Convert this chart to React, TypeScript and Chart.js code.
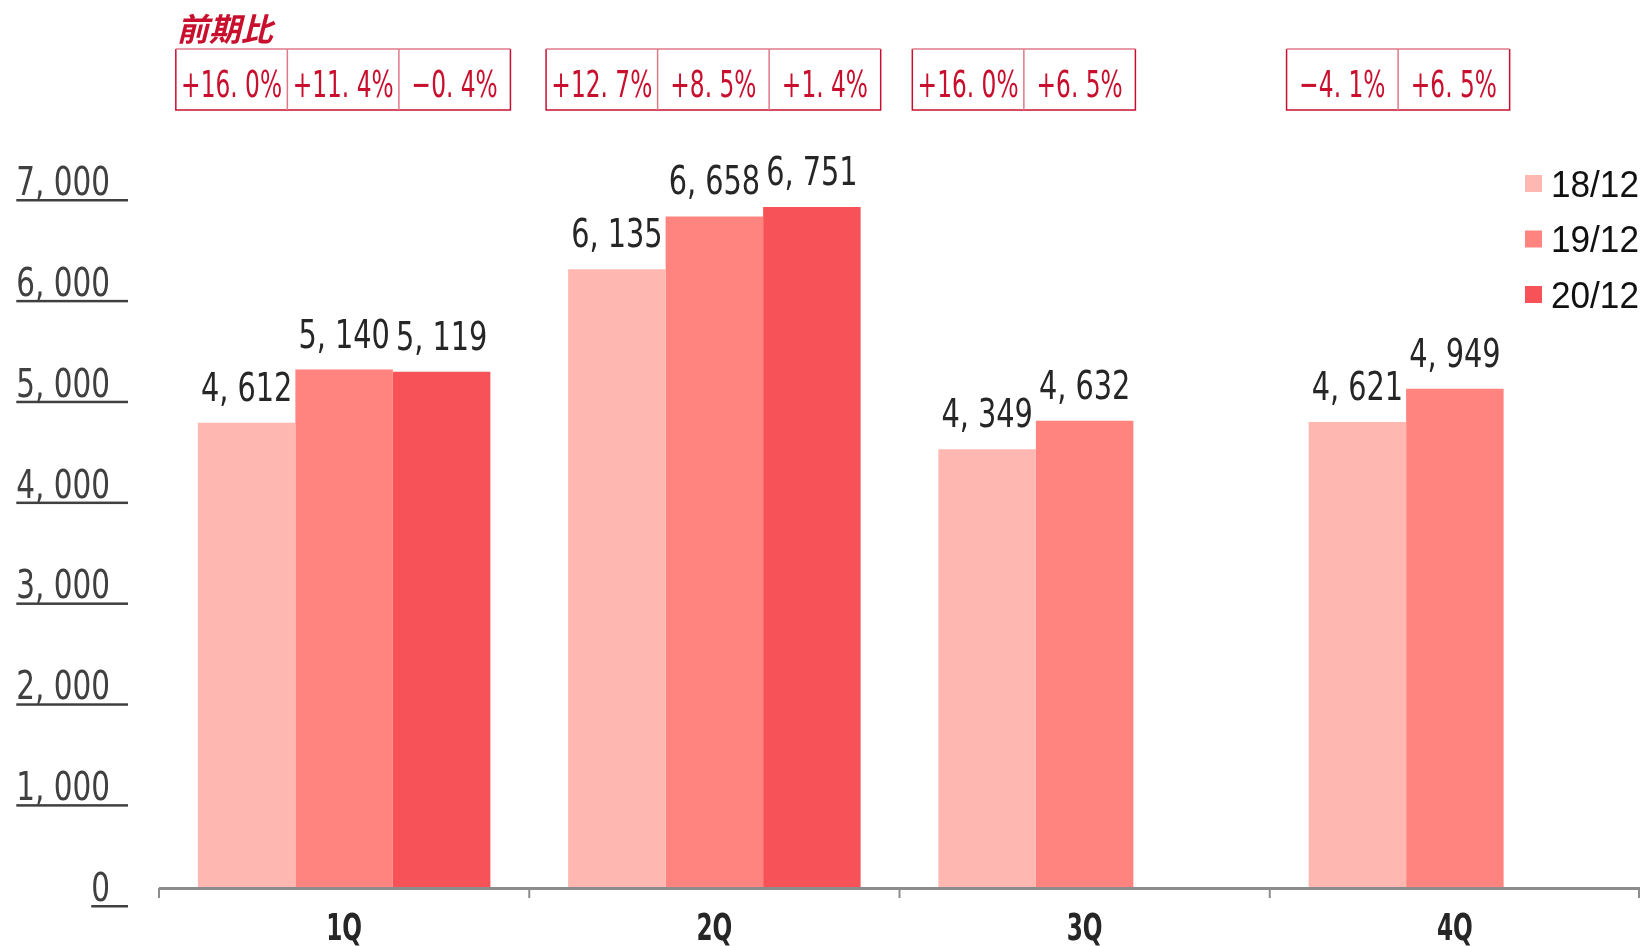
import React, { useEffect, useRef } from "react";
import { Chart, registerables } from "chart.js";

Chart.register(...registerables);

const categories = ["1Q", "2Q", "3Q", "4Q"];
const seriesLabels = ["18/12", "19/12", "20/12"];
const values1812 = [4612, 6135, 4349, 4621];
const values1912 = [5140, 6658, 4632, 4949];
const values2012: (number | null)[] = [5119, 6751, null, null];
const seriesColors = ["#FFB7B2", "#FF8480", "#F75257"];
const growth1Q = [16.0, 11.4, -0.4];
const growth2Q = [12.7, 8.5, 1.4];
const growth3Q = [16.0, 6.5];
const growth4Q = [-4.1, 6.5];
const growthByQuarter = [growth1Q, growth2Q, growth3Q, growth4Q];
const growthTitle = "前期比";
const yTicks = [0, 1000, 2000, 3000, 4000, 5000, 6000, 7000];

const NARROW = "'Liberation Sans Narrow', 'DejaVu Sans Condensed', 'Liberation Sans', sans-serif";
const REGULAR = "'Liberation Sans', Arial, sans-serif";
const CJK = "'Noto Sans CJK JP', sans-serif";
const CRIMSON = "#C8102E";

const fmtNum = (v: number) => v.toLocaleString("en-US").replace(/,/g, ", ");
const fmtPct = (v: number) => {
  const s = Math.abs(v).toFixed(1).replace(".", ". ");
  return (v < 0 ? "\u2212" : "+") + s + "%";
};

function drawSquished(ctx: CanvasRenderingContext2D, text: string, x: number, y: number, sx: number, align: "left" | "center" | "right") {
  ctx.save();
  ctx.translate(x, y);
  ctx.scale(sx, 1);
  ctx.textAlign = align;
  ctx.fillText(text, 0, 0);
  ctx.restore();
}

const overlayPlugin = {
  id: "overlay",
  afterDraw(chart: any) {
    const ctx: CanvasRenderingContext2D = chart.ctx;
    const area = chart.chartArea;
    const xs = chart.scales.x;
    const ys = chart.scales.y;
    ctx.save();

    // x axis line and ticks
    ctx.strokeStyle = "#8C8C8C";
    ctx.lineWidth = 3;
    ctx.beginPath();
    ctx.moveTo(area.left, area.bottom + 0.5);
    ctx.lineTo(area.right, area.bottom + 0.5);
    ctx.stroke();
    ctx.lineWidth = 2;
    const cw = (area.right - area.left) / categories.length;
    for (let i = 0; i <= categories.length; i++) {
      const px = Math.min(area.left + i * cw, area.right - 1);
      ctx.beginPath();
      ctx.moveTo(px, area.bottom);
      ctx.lineTo(px, area.bottom + 10);
      ctx.stroke();
    }

    // x labels
    ctx.fillStyle = "#262626";
    ctx.font = `bold 38px ${NARROW}`;
    ctx.textBaseline = "alphabetic";
    categories.forEach((c, i) => {
      drawSquished(ctx, c, xs.getPixelForValue(i), area.bottom + 52, 0.68, "center");
    });

    // y labels with underline
    const ySx = 0.84;
    ctx.font = `39px ${NARROW}`;
    yTicks.forEach((v) => {
      const py = ys.getPixelForValue(v);
      const t = fmtNum(v);
      ctx.fillStyle = "#404040";
      const w = ctx.measureText(t).width * ySx;
      drawSquished(ctx, t, 110, py + 13, ySx, "right");
      ctx.fillRect(110 - w, py + 17, 128 - (110 - w), 2.5);
    });

    // data labels
    ctx.fillStyle = "#262626";
    ctx.font = `39px ${NARROW}`;
    chart.data.datasets.forEach((ds: any, d: number) => {
      const meta = chart.getDatasetMeta(d);
      ds.data.forEach((v: number | null, i: number) => {
        if (v == null) return;
        const el = meta.data[i];
        drawSquished(ctx, fmtNum(v), el.x, el.y - 22, 0.82, "center");
      });
    });

    // growth boxes
    const barW = chart.getDatasetMeta(0).data[0].width;
    const cellW = barW * 1.144;
    const boxTop = 49;
    const boxBottom = 110;
    growthByQuarter.forEach((g, i) => {
      const gc = xs.getPixelForValue(i);
      const left = gc - 1.5 * cellW - (i === 2 ? 5 : 1);
      const right = left + g.length * cellW;
      ctx.strokeStyle = CRIMSON;
      ctx.lineWidth = 1.5;
      ctx.beginPath();
      ctx.moveTo(left, boxTop);
      ctx.lineTo(left, boxBottom);
      ctx.lineTo(right, boxBottom);
      ctx.lineTo(right, boxTop);
      ctx.stroke();
      ctx.strokeStyle = "#DE7A88";
      ctx.beginPath();
      ctx.moveTo(left, boxTop);
      ctx.lineTo(right, boxTop);
      ctx.stroke();
      for (let k = 1; k < g.length; k++) {
        ctx.beginPath();
        ctx.moveTo(left + k * cellW, boxTop);
        ctx.lineTo(left + k * cellW, boxBottom);
        ctx.stroke();
      }
      ctx.fillStyle = CRIMSON;
      ctx.font = `37px ${NARROW}`;
      g.forEach((v, k) => {
        drawSquished(ctx, fmtPct(v), left + (k + 0.5) * cellW, 97, 0.7, "center");
      });
      if (i === 0) {
        ctx.font = `italic bold 32px ${CJK}`;
        ctx.textAlign = "left";
        ctx.fillText(growthTitle, left + 1, 41);
      }
    });

    // legend
    seriesLabels.forEach((s, k) => {
      const cy = 183.5 + k * 55.5;
      ctx.fillStyle = seriesColors[k];
      ctx.fillRect(1525, cy - 8.5, 17, 17);
      ctx.fillStyle = "#111111";
      ctx.font = `37px ${REGULAR}`;
      ctx.textAlign = "left";
      drawSquished(ctx, s, 1551, cy + 13, 0.95, "left");
    });

    ctx.restore();
  },
};

export default function App() {
  const ref = useRef<HTMLCanvasElement | null>(null);
  useEffect(() => {
    if (!ref.current) return;
    const chart = new Chart(ref.current, {
      type: "bar",
      data: {
        labels: categories,
        datasets: [
          { label: seriesLabels[0], data: values1812, backgroundColor: seriesColors[0] },
          { label: seriesLabels[1], data: values1912, backgroundColor: seriesColors[1] },
          { label: seriesLabels[2], data: values2012, backgroundColor: seriesColors[2] },
        ],
      },
      options: {
        responsive: false,
        animation: false,
        layout: { padding: { left: 159, right: 8, top: 182, bottom: 58 } },
        datasets: { bar: { categoryPercentage: 0.79, barPercentage: 1 } },
        scales: {
          x: { display: false },
          y: { display: false, min: 0, max: 7000 },
        },
        plugins: { legend: { display: false }, tooltip: { enabled: false } },
      },
      plugins: [overlayPlugin],
    });
    return () => chart.destroy();
  }, []);
  return (
    <div style={{ position: "fixed", left: 0, top: 0, width: 1648, height: 946, background: "#fff" }}>
      <canvas ref={ref} width={1648} height={946} style={{ display: "block" }} />
    </div>
  );
}
